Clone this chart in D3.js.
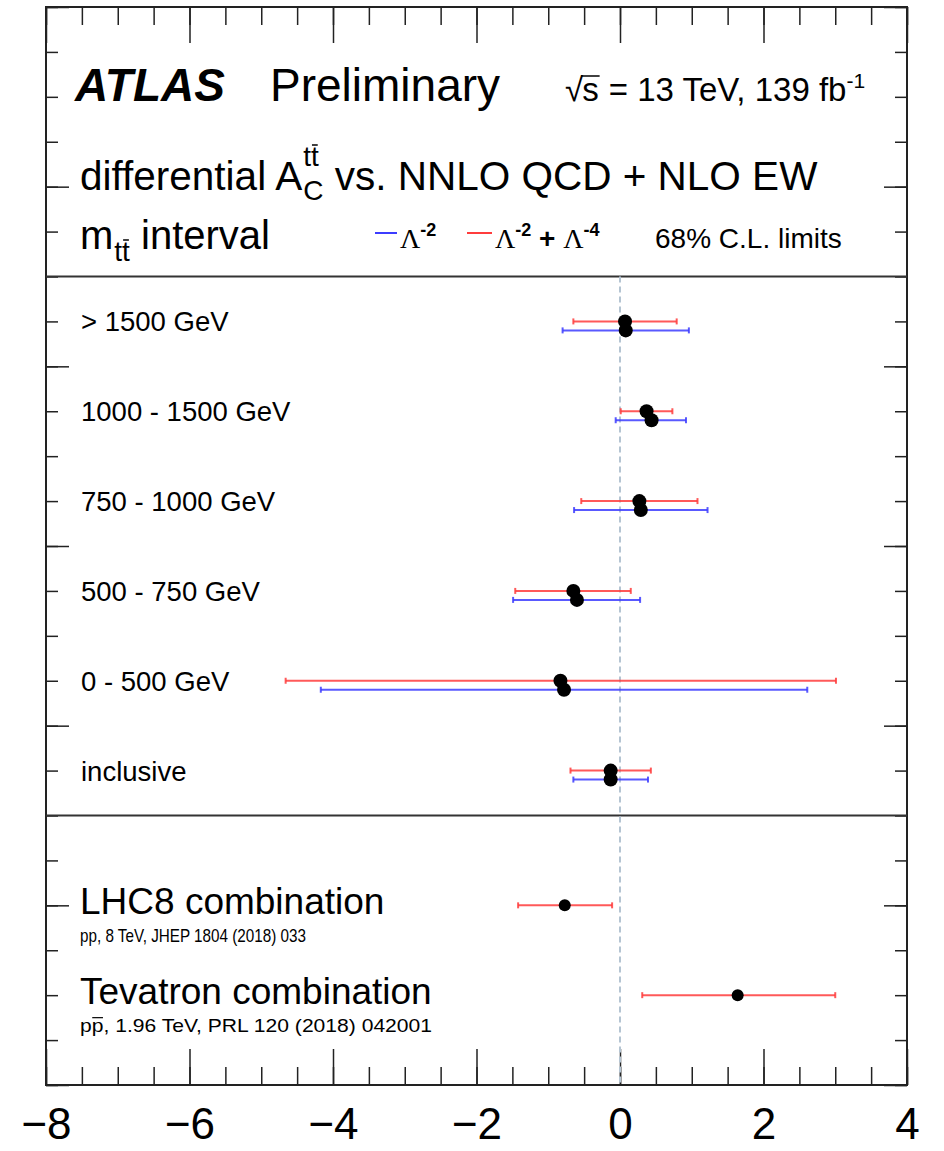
<!DOCTYPE html>
<html>
<head>
<meta charset="utf-8">
<script src="https://cdn.jsdelivr.net/npm/d3@7"></script>
<style>
  html, body { margin: 0; padding: 0; background: #fff; }
  svg { display: block; }
  text { font-family: "Liberation Sans", Arial, Helvetica, sans-serif; fill: #000; white-space: pre; }
</style>
</head>
<body>
<svg id="chart" width="944" height="1151"></svg>
<script>
// ---------------- data ----------------
const categories = ["> 1500 GeV", "1000 - 1500 GeV", "750 - 1000 GeV", "500 - 750 GeV", "0 - 500 GeV", "inclusive"];
// Lambda^-2 + Lambda^-4 (red)
const redCentral = [0.07, 0.37, 0.27, -0.65, -0.83, -0.13];
const redLow     = [-0.65, 0.01, -0.54, -1.46, -4.66, -0.69];
const redHigh    = [0.79, 0.73, 1.08, 0.15, 3.01, 0.43];
// Lambda^-2 (blue)
const blueCentral = [0.08, 0.44, 0.29, -0.60, -0.78, -0.13];
const blueLow     = [-0.80, -0.06, -0.64, -1.49, -4.17, -0.65];
const blueHigh    = [0.96, 0.92, 1.22, 0.28, 2.61, 0.39];
// external combinations
const comboNames   = ["LHC8 combination", "Tevatron combination"];
const comboRefs    = ["pp, 8 TeV, JHEP 1804 (2018) 033", "pp, 1.96 TeV, PRL 120 (2018) 042001"];
const comboCentral = [-0.77, 1.64];
const comboLow     = [-1.42, 0.31];
const comboHigh    = [-0.11, 3.00];
const xTickLabels  = [-8, -6, -4, -2, 0, 2, 4];

// ---------------- layout ----------------
const svg = d3.select("#chart");
const X0 = 46, X1 = 907, Y0 = 7, Y1 = 1085;
const x = d3.scaleLinear().domain([-8, 4]).range([X0, X1]);
const y = d3.scaleLinear().domain([0, 24]).range([Y1, Y0]);
const RED = "#ff3c3c", BLUE = "#3c3cff";

// row positions in y units
const rowY = i => 17 - 2 * i;
const comboY = i => 4 - 2 * i;
const blueOffset = -0.2;

// frame
svg.append("rect").attr("x", X0).attr("y", Y0).attr("width", X1 - X0).attr("height", Y1 - Y0)
  .attr("fill", "none").attr("stroke", "#222").attr("stroke-width", 2);

// axes ticks
const minorX = d3.range(-8, 4.001, 0.5);
const majorX = xTickLabels;
const allY = d3.range(0, 25, 1);
const majorY = d3.range(0, 25, 4);

function styleAxis(g) {
  g.select(".domain").remove();
  g.selectAll(".tick line").attr("stroke", "#222").attr("stroke-width", 1.5);
  g.selectAll(".tick text").remove();
}
svg.append("g").attr("transform", `translate(0,${Y1})`)
  .call(d3.axisBottom(x).tickValues(minorX).tickSize(-18)).call(styleAxis);
svg.append("g").attr("transform", `translate(0,${Y1})`)
  .call(d3.axisBottom(x).tickValues(majorX).tickSize(-36)).call(styleAxis);
svg.append("g").attr("transform", `translate(0,${Y0})`)
  .call(d3.axisTop(x).tickValues(minorX).tickSize(-18)).call(styleAxis);
svg.append("g").attr("transform", `translate(0,${Y0})`)
  .call(d3.axisTop(x).tickValues(majorX).tickSize(-36)).call(styleAxis);
svg.append("g").attr("transform", `translate(${X0},0)`)
  .call(d3.axisLeft(y).tickValues(allY).tickSize(-12)).call(styleAxis);
svg.append("g").attr("transform", `translate(${X0},0)`)
  .call(d3.axisLeft(y).tickValues(majorY).tickSize(-23)).call(styleAxis);
svg.append("g").attr("transform", `translate(${X1},0)`)
  .call(d3.axisRight(y).tickValues(allY).tickSize(-12)).call(styleAxis);
svg.append("g").attr("transform", `translate(${X1},0)`)
  .call(d3.axisRight(y).tickValues(majorY).tickSize(-23)).call(styleAxis);

// x tick labels
const labAxis = svg.append("g").attr("transform", `translate(0,${Y1})`)
  .call(d3.axisBottom(x).tickValues(xTickLabels).tickSize(0).tickPadding(23));
labAxis.select(".domain").remove();
labAxis.selectAll("text").attr("font-size", 44).attr("font-family", "Liberation Sans, Arial, sans-serif").attr("fill", "#000");

// separators
[18, 6].forEach(v => {
  svg.append("line").attr("x1", X0).attr("x2", X1).attr("y1", y(v)).attr("y2", y(v))
    .attr("stroke", "#333").attr("stroke-width", 2);
});

// zero dashed line
svg.append("line").attr("x1", x(0)).attr("x2", x(0)).attr("y1", y(18)).attr("y2", Y1)
  .attr("stroke", "#b4c4d2").attr("stroke-width", 2).attr("stroke-dasharray", "6,4");

// error bars
function errBar(g, c, lo, hi, yv, color) {
  const yy = y(yv);
  g.append("line").attr("x1", x(lo)).attr("x2", x(hi)).attr("y1", yy).attr("y2", yy)
    .attr("stroke", color).attr("stroke-width", 2).attr("stroke-opacity", 0.85);
  [lo, hi].forEach(v => g.append("line").attr("x1", x(v)).attr("x2", x(v))
    .attr("y1", yy - 3).attr("y2", yy + 3).attr("stroke", color).attr("stroke-width", 2).attr("stroke-opacity", 0.85));
}
const marks = svg.append("g");
categories.forEach((c, i) => {
  errBar(marks, redCentral[i], redLow[i], redHigh[i], rowY(i), RED);
  errBar(marks, blueCentral[i], blueLow[i], blueHigh[i], rowY(i) + blueOffset, BLUE);
});
categories.forEach((c, i) => {
  marks.append("circle").attr("cx", x(redCentral[i])).attr("cy", y(rowY(i))).attr("r", 7).attr("fill", "#000");
  marks.append("circle").attr("cx", x(blueCentral[i])).attr("cy", y(rowY(i) + blueOffset)).attr("r", 7).attr("fill", "#000");
});
comboNames.forEach((c, i) => {
  errBar(marks, comboCentral[i], comboLow[i], comboHigh[i], comboY(i), RED);
  marks.append("circle").attr("cx", x(comboCentral[i])).attr("cy", y(comboY(i))).attr("r", 6).attr("fill", "#000");
});

// category labels
categories.forEach((c, i) => {
  svg.append("text").attr("x", 81).attr("y", y(rowY(i)) + 10).attr("font-size", 27.5).text(c);
});

// combination labels
const refFs = 19;
comboNames.forEach((c, i) => {
  svg.append("text").attr("x", 80).attr("y", y(comboY(i)) + 9).attr("font-size", 37).text(c);
  svg.append("text").attr("x", 80).attr("y", y(comboY(i)) + 37).attr("font-size", refFs)
    .attr("textLength", i === 0 ? 226 : 352).attr("lengthAdjust", "spacingAndGlyphs").text(comboRefs[i]);
});
// bar over second p in Tevatron reference (p p-bar)
{
  const tmp = svg.append("text").attr("font-size", refFs).attr("x", -1000).attr("y", -1000).text(comboRefs[1]);
  const full = tmp.node().getComputedTextLength();
  tmp.text("p");
  const pw = tmp.node().getComputedTextLength() * 352 / full; tmp.remove();
  const by = y(comboY(1)) + 37 - 14.5;
  svg.append("line").attr("x1", 80 + pw + 0.5).attr("x2", 80 + 2 * pw - 0.5).attr("y1", by).attr("y2", by)
    .attr("stroke", "#000").attr("stroke-width", 1.2);
}

// ---------------- header ----------------
svg.append("text").attr("x", 75).attr("y", 101).attr("font-size", 46)
  .attr("font-weight", "bold").attr("font-style", "italic").text("ATLAS");
svg.append("text").attr("x", 270).attr("y", 101).attr("font-size", 46).text("Preliminary");

// sqrt(s) = 13 TeV, 139 fb^-1
{
  const g = svg.append("g");
  const base = 101, fs = 33;
  const rad = g.append("text").attr("x", 565).attr("y", base).attr("font-size", fs).text("\u221A");
  const rw = rad.node().getComputedTextLength();
  const s = g.append("text").attr("x", 565 + rw - 1).attr("y", base).attr("font-size", fs).text("s");
  const sw = s.node().getComputedTextLength();
  g.append("line").attr("x1", 565 + rw - 2).attr("x2", 565 + rw + sw).attr("y1", base - 25).attr("y2", base - 25)
    .attr("stroke", "#000").attr("stroke-width", 1.5);
  const rest = g.append("text").attr("x", 565 + rw + sw).attr("y", base).attr("font-size", fs);
  rest.append("tspan").text(" = 13 TeV, 139 fb");
  rest.append("tspan").attr("dy", -13).attr("font-size", 21).text("-1");
}

// differential A_C^{tt} vs. NNLO QCD + NLO EW
{
  const base = 190, fs = 40.5;
  const t1 = svg.append("text").attr("x", 80).attr("y", base).attr("font-size", fs).text("differential A");
  const w1 = t1.node().getComputedTextLength();
  const sub = svg.append("text").attr("x", 80 + w1 + 1).attr("y", base + 10).attr("font-size", 28).text("C");
  const sup = svg.append("text").attr("x", 80 + w1 + 1).attr("y", base - 24).attr("font-size", 28).text("tt");
  const subw = sub.node().getComputedTextLength();
  const supw = sup.node().getComputedTextLength();
  svg.append("line").attr("x1", 80 + w1 + 1 + supw / 2 + 1).attr("x2", 80 + w1 + 1 + supw - 1)
    .attr("y1", base - 45).attr("y2", base - 45).attr("stroke", "#000").attr("stroke-width", 1.5);
  svg.append("text").attr("x", 80 + w1 + 1 + Math.max(subw, supw)).attr("y", base).attr("font-size", fs)
    .text(" vs. NNLO QCD + NLO EW");
}

// m_tt interval
{
  const base = 249, fs = 40;
  const m = svg.append("text").attr("x", 80).attr("y", base).attr("font-size", fs).text("m");
  const mw = m.node().getComputedTextLength();
  const sub = svg.append("text").attr("x", 80 + mw + 1).attr("y", base + 12).attr("font-size", 28).text("tt");
  const sw = sub.node().getComputedTextLength();
  svg.append("line").attr("x1", 80 + mw + 1 + sw / 2 + 1).attr("x2", 80 + mw + sw).attr("y1", base - 9).attr("y2", base - 9)
    .attr("stroke", "#000").attr("stroke-width", 1.5);
  svg.append("text").attr("x", 80 + mw + sw + 1).attr("y", base).attr("font-size", fs).text(" interval");
}

// legend
{
  const base = 248, ly = 233;
  svg.append("line").attr("x1", 375).attr("x2", 397).attr("y1", ly).attr("y2", ly).attr("stroke", BLUE).attr("stroke-width", 2);
  const t1 = svg.append("text").attr("x", 400).attr("y", base).attr("font-size", 28).attr("font-weight", "bold");
  t1.append("tspan").attr("font-family", "Liberation Serif, Times New Roman, serif").attr("font-weight", "normal").text("\u039B");
  t1.append("tspan").attr("dy", -12).attr("font-size", 18).text("-2");
  svg.append("line").attr("x1", 467).attr("x2", 492).attr("y1", ly).attr("y2", ly).attr("stroke", RED).attr("stroke-width", 2);
  const t2 = svg.append("text").attr("x", 495).attr("y", base).attr("font-size", 28).attr("font-weight", "bold");
  t2.append("tspan").attr("font-family", "Liberation Serif, Times New Roman, serif").attr("font-weight", "normal").text("\u039B");
  t2.append("tspan").attr("dy", -12).attr("font-size", 18).text("-2");
  t2.append("tspan").attr("dy", 12).text(" + ");
  t2.append("tspan").attr("font-family", "Liberation Serif, Times New Roman, serif").attr("font-weight", "normal").text("\u039B");
  t2.append("tspan").attr("dy", -12).attr("font-size", 18).text("-4");
  svg.append("text").attr("x", 655).attr("y", base).attr("font-size", 28).text("68% C.L. limits");
}
</script>
</body>
</html>
